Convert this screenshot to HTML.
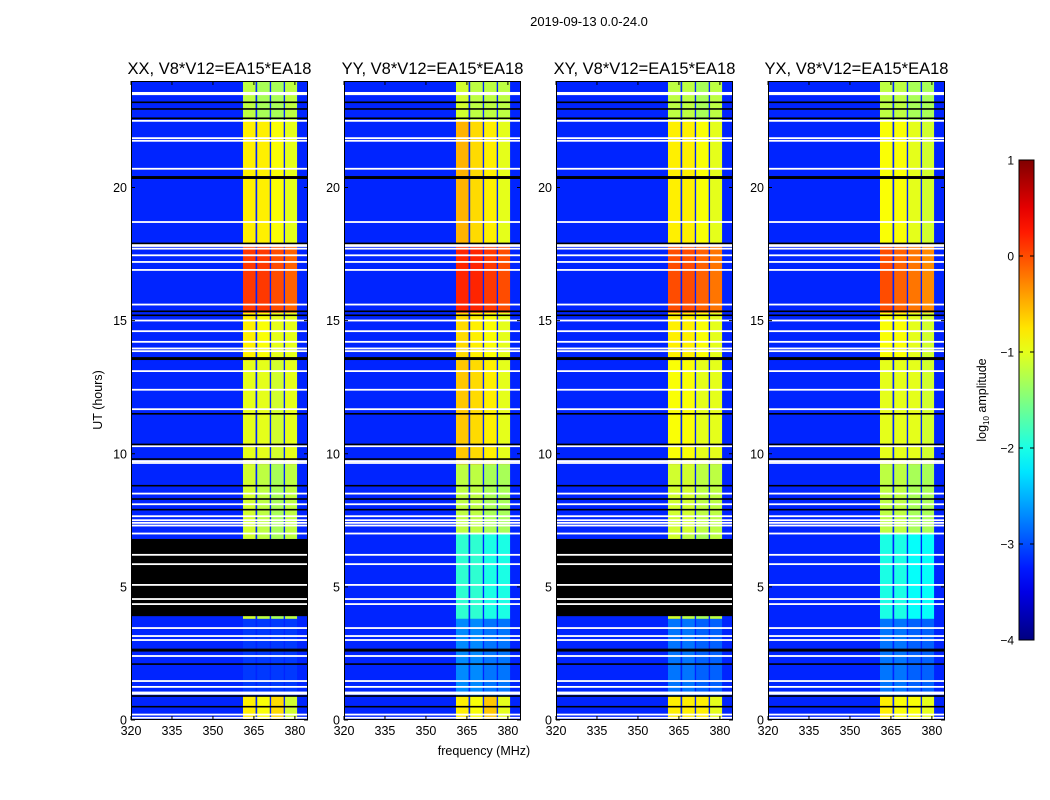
<!DOCTYPE html>
<html><head><meta charset="utf-8">
<style>
html,body{margin:0;padding:0;background:#fff;}
svg{display:block;font-family:"Liberation Sans","DejaVu Sans",sans-serif;}
</style></head>
<body>
<svg id="fig" width="1050" height="800" viewBox="0 0 1050 800">
  <text x="589" y="26" font-size="13" text-anchor="middle">2019-09-13 0.0-24.0</text>
  <text x="484" y="755" font-size="12.5" text-anchor="middle">frequency (MHz)</text>
  <text transform="translate(102,400) rotate(-90)" font-size="12.5" text-anchor="middle">UT (hours)</text>
  <g id="panels"></g>
  <g id="cbar"></g>
  <text transform="translate(986,400) rotate(-90)" font-size="12.5" text-anchor="middle">log<tspan font-size="8" dy="3">10</tspan><tspan dy="-3"> amplitude</tspan></text>
</svg>
<script>
// ---- data ----
const panelTitles = ["XX, V8*V12=EA15*EA18","YY, V8*V12=EA15*EA18","XY, V8*V12=EA15*EA18","YX, V8*V12=EA15*EA18"];
const xTicks = [320,335,350,365,380];
const yTicks = [0,5,10,15,20];
const cbarTicks = [1,0,-1,-2,-3,-4];
const segStart = [0,0.9,3.8,7.0,9.6,13.5,15.3,17.8,22.5];
const segEnd   = [0.9,3.8,7.0,9.6,13.5,15.3,17.8,22.5,24];
const bandXX = [[-0.8,-0.9,-0.7,-1.1],[-3.1,-3.1,-3.1,-3.1],[-1.1,-1.2,-1.3,-1.2],[-1.1,-1.2,-1.3,-1.2],[-1.0,-1.0,-1.1,-1.0],[-0.8,-0.9,-1.0,-1.0],[0.1,0.1,0.0,-0.1],[-0.8,-0.8,-0.9,-1.0],[-1.2,-1.3,-1.3,-1.2]];
const bandYY = [[-0.8,-0.9,-0.6,-1.0],[-2.7,-2.7,-2.8,-2.8],[-1.9,-1.9,-2.0,-2.0],[-1.2,-1.2,-1.3,-1.3],[-0.6,-0.7,-0.8,-1.0],[-0.7,-0.8,-0.9,-1.0],[0.2,0.2,0.1,0.0],[-0.5,-0.7,-0.8,-1.0],[-1.1,-1.2,-1.2,-1.2]];
const bandXY = [[-0.8,-0.8,-0.8,-1.0],[-2.8,-2.8,-2.9,-2.9],[-1.1,-1.2,-1.3,-1.2],[-1.1,-1.1,-1.2,-1.2],[-0.9,-0.9,-1.0,-1.0],[-0.8,-0.8,-0.9,-1.0],[0.0,0.0,-0.1,-0.2],[-0.8,-0.8,-0.9,-1.0],[-1.2,-1.2,-1.3,-1.2]];
const bandYX = [[-0.8,-0.9,-0.9,-1.0],[-2.8,-2.8,-2.9,-2.9],[-2.0,-2.0,-2.1,-2.1],[-1.2,-1.2,-1.3,-1.3],[-1.0,-1.0,-1.0,-1.1],[-0.9,-0.9,-1.0,-1.1],[0.0,-0.1,-0.2,-0.3],[-0.9,-0.9,-1.0,-1.1],[-1.2,-1.2,-1.3,-1.3]];
const subBandStart = [361,366.2,371.3,376.4];
const subBandEnd   = [365.6,370.8,375.9,380.8];
const backgroundLevel = -3.2;
const whiteLines = [23.5,23.55,22.5,21.85,21.75,20.7,18.7,17.85,17.8,17.7,17.45,17.2,16.9,15.6,15.0,14.6,14.2,13.95,13.85,13.1,12.4,11.67,10.28,9.65,9.72,8.5,8.1,7.65,7.3,7.4,7.5,7.0,6.2,5.85,5.07,4.54,4.35,3.45,3.15,3.0,2.4,1.46,1.24,0.98,1.03,0.2,0.08];
const blackLines = [23.2,22.95,22.6,20.4,20.35,17.9,15.35,15.2,13.6,13.55,11.5,10.35,9.8,8.8,8.3,7.9,2.65,2.6,2.1,0.9,0.5];
const blackBlockStart = [3.9,null,3.9,null];
const blackBlockEnd   = [6.8,null,6.8,null];

// ---- layout ----
const panelLeft=[131,344,556,768], PW=177, PT=81, PB=720;
const fMin=320, fMax=384.8;
function xs(p,f){return panelLeft[p]+(f-fMin)/(fMax-fMin)*PW;}
function ys(h){return PB-(h/24)*(PB-PT);}
function jet(v){let t=Math.max(0,Math.min(1,(v+4)/5));
  const c=x=>Math.max(0,Math.min(1,x));
  const r=c(1.5-Math.abs(4*t-3)),g=c(1.5-Math.abs(4*t-2)),b=c(1.5-Math.abs(4*t-1));
  return `rgb(${Math.round(r*255)},${Math.round(g*255)},${Math.round(b*255)})`;}
const NS="http://www.w3.org/2000/svg";
function mk(tag,attrs,parent){const e=document.createElementNS(NS,tag);for(const k in attrs)e.setAttribute(k,attrs[k]);parent.appendChild(e);return e;}
const bands=[bandXX,bandYY,bandXY,bandYX];
const root=document.getElementById('panels');
for(let p=0;p<4;p++){
  const g=mk('g',{},root);
  
  
  const bg=mk('rect',{x:panelLeft[p],y:PT,width:PW,height:PB-PT,fill:jet(backgroundLevel)},g);
  
  
  for(let s=0;s<segStart.length;s++){
    for(let k=0;k<4;k++){
      const x0=xs(p,subBandStart[k]),x1=xs(p,subBandEnd[k]);
      const r=mk('rect',{x:x0,y:ys(segEnd[s]),width:x1-x0,height:ys(segStart[s])-ys(segEnd[s]),fill:jet(bands[p][s][k])},g);
      
      
    }
  }
  if(blackBlockStart[p]!==null){
    const b=mk('rect',{x:panelLeft[p],y:ys(blackBlockEnd[p]),width:PW,height:ys(blackBlockStart[p])-ys(blackBlockEnd[p]),fill:'#000'},g);
    
    
  }
  for(const h of whiteLines){
    const l=mk('rect',{x:panelLeft[p],y:ys(h)-1,width:PW,height:1.8,fill:'#fff'},g);
    
    
  }
  for(const h of blackLines){
    const l=mk('rect',{x:panelLeft[p],y:ys(h)-0.8,width:PW,height:1.6,fill:'#000'},g);
    
    
  }
  const fr=mk('rect',{x:panelLeft[p]+0.5,y:PT+0.5,width:PW-1,height:PB-PT-1,fill:'none',stroke:'#000','stroke-width':1},g);
  
  
  const t=mk('text',{x:panelLeft[p]+PW/2,y:74,'font-size':16.5,'text-anchor':'middle'},g);
  t.textContent=panelTitles[p];
  
  
  for(const f of xTicks){
    const x=xs(p,f);
    mk('line',{x1:x,x2:x,y1:PB,y2:PB-4,stroke:'#000'},g);
    mk('line',{x1:x,x2:x,y1:PT,y2:PT+4,stroke:'#000'},g);
    const tl=mk('text',{x:x,y:PB+15,'font-size':12.5,'text-anchor':'middle'},g);
    tl.textContent=f;
    
    
  }
  for(const h of yTicks){
    const y=ys(h);
    mk('line',{x1:panelLeft[p],x2:panelLeft[p]+4,y1:y,y2:y,stroke:'#000'},g);
    mk('line',{x1:panelLeft[p]+PW,x2:panelLeft[p]+PW-4,y1:y,y2:y,stroke:'#000'},g);
    const tl=mk('text',{x:panelLeft[p]-4,y:y+4.5,'font-size':12.5,'text-anchor':'end'},g);
    tl.textContent=h;
    
    
  }
}
// colorbar
const cb=document.getElementById('cbar');
const cbX=1019,cbW=15,cbT=160,cbB=640;
const defs=mk('defs',{},cb);
const grad=mk('linearGradient',{id:'jetg',x1:0,y1:1,x2:0,y2:0},defs);
for(let i=0;i<=20;i++){mk('stop',{offset:i/20,'stop-color':jet(-4+5*i/20)},grad);}
mk('rect',{x:cbX,y:cbT,width:cbW,height:cbB-cbT,fill:'url(#jetg)',stroke:'#000','stroke-width':1},cb);
for(const v of cbarTicks){
  const y=cbB-(v+4)/5*(cbB-cbT);
  mk('line',{x1:cbX,x2:cbX+4,y1:y,y2:y,stroke:'#000'},cb);
  mk('line',{x1:cbX+cbW,x2:cbX+cbW-4,y1:y,y2:y,stroke:'#000'},cb);
  const tl=mk('text',{x:cbX-5,y:y+4.5,'font-size':12,'text-anchor':'end'},cb);
  tl.textContent=(v<0?'\u2212'+(-v):v);
  
  
}
</script>
</body></html>
